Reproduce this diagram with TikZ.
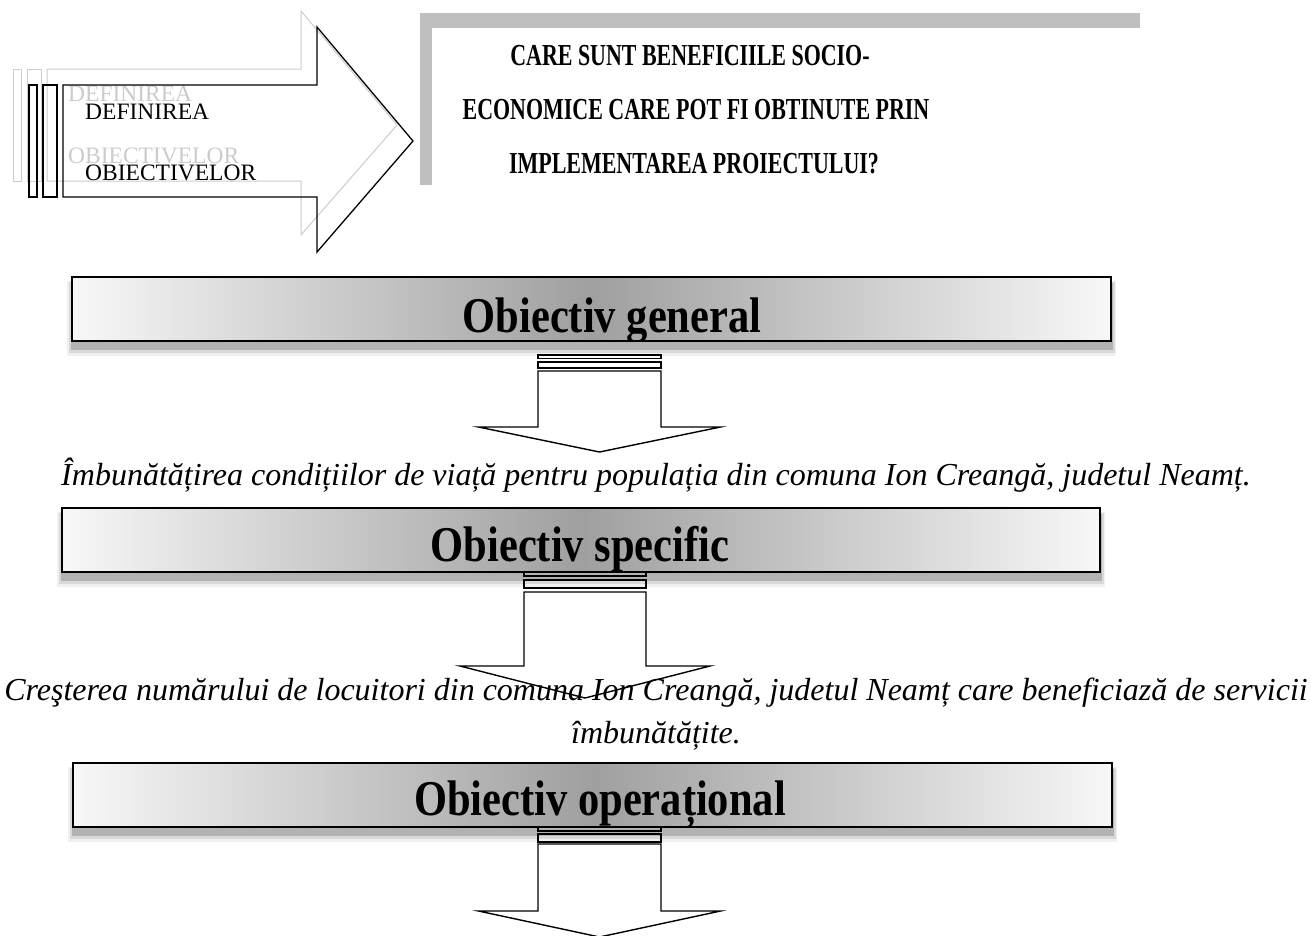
\documentclass[tikz,border=0pt]{standalone}
\usepackage{fontspec}
\setmainfont{Liberation Serif}
\newfontfamily\titlefont[FakeStretch=0.72]{Liberation Serif}
\newfontfamily\boxfont[FakeStretch=0.85]{Liberation Serif}
\newcommand\obox[8]{%
  \fill[gray!12] (#2-5,#3+4) rectangle (#4+5,#5+15);
  \fill[gray!30] (#2-3,#3+5) rectangle (#4+4,#5+12);
  \fill[gray!60] (#2-1,#3+6) rectangle (#4+2,#5+9);
  \shade[left color=gray!6,right color=gray!6,middle color=gray!75] (#2,#3) rectangle (#4,#5);
  \begin{scope}
    \clip (#2,#3) rectangle (#4,#5);
    \node[boxtxt] (#1) at (#6,#7) {#8};
  \end{scope}
  \draw[line width=1.6pt] (#2,#3) rectangle (#4,#5);
}
% cx, half, wing half, bar a top, bar a bottom, bar b top, bar b bottom, shaft top, wing y ; tip y in \tipy
\newcommand\dnarrow[9]{%
  \draw[arr] (#1-#2,#4) rectangle (#1+#2,#5);
  \draw[arr] (#1-#2,#6) rectangle (#1+#2,#7);
  \draw[arr] (#1-#2,#8) -- (#1-#2,#9) -- (#1-#3,#9) -- (#1,\tipy) -- (#1+#3,#9) -- (#1+#2,#9) -- (#1+#2,#8) -- cycle;
}
\begin{document}
\begin{tikzpicture}[x=1pt,y=-1pt,
  blk/.style={draw=black,line width=1.3pt,line join=miter},
  ghost/.style={draw=gray!40,line width=1pt},
  arr/.style={draw=black,line width=1.4pt,line join=miter},
  deftxt/.style={anchor=base west,inner sep=0pt,font=\fontsize{23.5}{28}\selectfont},
  titletxt/.style={anchor=base,inner sep=0pt,font=\titlefont\bfseries\fontsize{30.5}{36}\selectfont},
  boxtxt/.style={anchor=base,inner sep=0pt,font=\boxfont\bfseries\fontsize{50}{56}\selectfont},
  ittxt/.style={anchor=base,inner sep=0pt,font=\itshape\fontsize{32}{38}\selectfont}]
\useasboundingbox (0,0) rectangle (1311,935);
\fill[white] (0,0) rectangle (1311,935);

% ghost arrow (reflection)
\draw[ghost] (13,69) rectangle (21,181);
\draw[ghost] (27,69) rectangle (41,181);
\draw[ghost] (47,69) -- (301,69) -- (301,11) -- (397,125) -- (301,235) -- (301,181) -- (47,181) -- cycle;
\node[deftxt,text=gray!40] (gt1) at (68,101) {DEFINIREA};
\node[deftxt,text=gray!40] (gt2) at (68,163) {OBIECTIVELOR};

% black arrow
\draw[blk] (29,85) rectangle (37,197);
\draw[blk] (43,85) rectangle (57,197);
\draw[blk] (63,85) -- (317,85) -- (317,27) -- (413,141) -- (317,252) -- (317,197) -- (63,197) -- cycle;
\node[deftxt] (t1) at (85,119) {DEFINIREA};
\node[deftxt] (t2) at (85,180) {OBIECTIVELOR};

% title box (gray shadow L)
\fill[gray!50] (420,13) rectangle (1140,28);
\fill[gray!50] (420,13) rectangle (432,185);
\node[titletxt] (q1) at (690,65) {CARE SUNT BENEFICIILE SOCIO-};
\node[titletxt] (q2) at (696,119) {ECONOMICE CARE POT FI OBTINUTE PRIN};
\node[titletxt] (q3) at (694,173) {IMPLEMENTAREA PROIECTULUI?};

% boxes
\obox{og}{72}{277}{1111}{341}{612}{332}{Obiectiv general}
\obox{os}{62}{508}{1100}{572}{580}{561}{Obiectiv specific}
\obox{oo}{73}{763}{1112}{827}{600}{815}{Obiectiv operațional}

% texts
\node[ittxt] (d1) at (656,485) {Îmbunătățirea condițiilor de viață pentru populația din comuna Ion Creangă, judetul Neamț.};
\node[ittxt] (d2) at (656,700) {Creşterea numărului de locuitori din comuna Ion Creangă, judetul Neamț care beneficiază de servicii};
\node[ittxt] (d3) at (656,743) {îmbunătățite.};

% down arrows
\def\tipy{452}
\dnarrow{599.5}{61.5}{121}{355}{358.5}{362}{368}{371}{427}
\def\tipy{698}
\dnarrow{585}{61}{125}{572}{576}{580}{588}{592}{666}
\def\tipy{937}
\dnarrow{599.5}{61.5}{121}{827}{831}{834}{842}{844}{911}
\end{tikzpicture}
\end{document}
